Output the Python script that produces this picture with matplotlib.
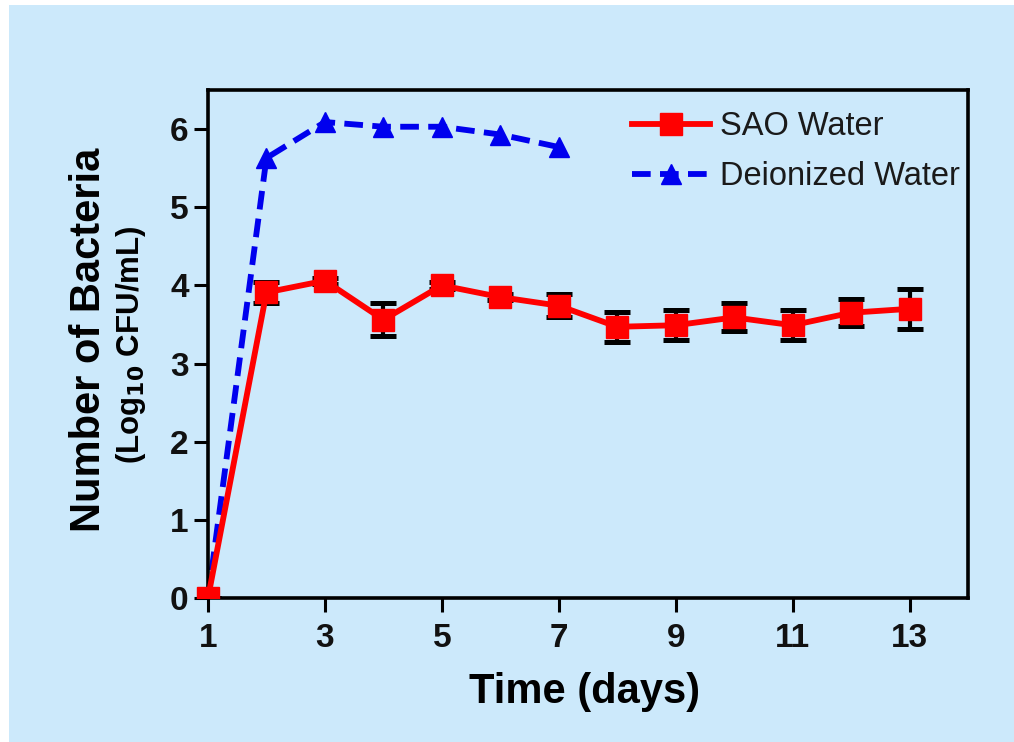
import matplotlib
matplotlib.use("Agg")
import matplotlib.pyplot as plt
from matplotlib.patches import Rectangle

# ---- data ----
days = [1, 2, 3, 4, 5, 6, 7, 8, 9, 10, 11, 12, 13]
sao_water = [0.0, 3.91, 4.06, 3.56, 4.00, 3.85, 3.74, 3.47, 3.49, 3.59, 3.49, 3.65, 3.70]
sao_err = [0.0, 0.13, 0.04, 0.21, 0.04, 0.04, 0.15, 0.19, 0.19, 0.18, 0.19, 0.17, 0.26]
di_days = [1, 2, 3, 4, 5, 6, 7]
di_water = [0.0, 5.63, 6.09, 6.03, 6.03, 5.93, 5.77]
xticks = [1, 3, 5, 7, 9, 11, 13]
yticks = [0, 1, 2, 3, 4, 5, 6]

BG = "#cce9fb"
plt.rcParams['font.family'] = ['Liberation Sans', 'DejaVu Sans']

W, H = 1014, 742
fig = plt.figure(figsize=(W / 100, H / 100), dpi=100, facecolor="white")
fig.patches.append(Rectangle((9 / W, 0), 1 - 9 / W, 1 - 5 / H, transform=fig.transFigure,
                             facecolor=BG, edgecolor="none", zorder=-10))

ax = fig.add_axes([208 / W, 1 - 598 / H, (968 - 208) / W, (598 - 90) / H])
ax.set_facecolor(BG)
ax.patch.set_alpha(0)

# deionized water
l2, = ax.plot(di_days, di_water, color="#0000ee", lw=4.2, linestyle=(0, (3.2, 1.6)),
              marker="^", markersize=15, zorder=2, label="Deionized Water")

# SAO water error bars (behind markers)
ax.errorbar(days, sao_water, yerr=sao_err, fmt="none", ecolor="black", elinewidth=3,
            capsize=9.5, capthick=3.6, zorder=3)
l1, = ax.plot(days, sao_water, color="#ff0000", lw=4.2, marker="s", markersize=16,
              zorder=4, label="SAO Water")
clip = Rectangle((-0.05, 0), 1.1, 1.1, transform=ax.transAxes)
l1.set_clip_path(clip)
l2.set_clip_path(clip)

ax.set_xlim(1, 14)
ax.set_ylim(0, 6.5)
ax.set_xticks(xticks)
ax.set_yticks(yticks)
for s in ax.spines.values():
    s.set_linewidth(2.6)
    s.set_color("black")
ax.tick_params(axis="both", direction="out", length=10, width=2.2, color="black",
               labelsize=24, labelcolor="#111111")
ax.tick_params(axis="x", pad=8)
ax.tick_params(axis="y", pad=4)
for lab in ax.get_xticklabels() + ax.get_yticklabels():
    lab.set_fontweight("bold")

leg = ax.legend(handles=[l1, l2], loc="upper left", frameon=False, fontsize=23.5,
                bbox_to_anchor=(632 / W, 1 - 111 / H), bbox_transform=fig.transFigure,
                borderpad=0, borderaxespad=0, handlelength=2.4, handletextpad=0.3,
                labelspacing=0.58, numpoints=1)
for t in leg.get_texts():
    t.set_color("#1a1a1a")

fig.text(89 / W, 1 - 340 / H, "Number of Bacteria", rotation=90, ha="center", va="center",
         fontsize=30, fontweight="bold", color="black")
fig.text(131 / W, 1 - 345 / H, "(Log$_{\\mathbf{10}}$ CFU/mL)", rotation=90, ha="center",
         va="center", fontsize=22.5, fontweight="bold", color="black")
fig.text(585 / W, 1 - 703 / H, "Time (days)", ha="center", va="baseline",
         fontsize=30, fontweight="bold", color="black")

fig.savefig("out.png", dpi=100, facecolor="white")
